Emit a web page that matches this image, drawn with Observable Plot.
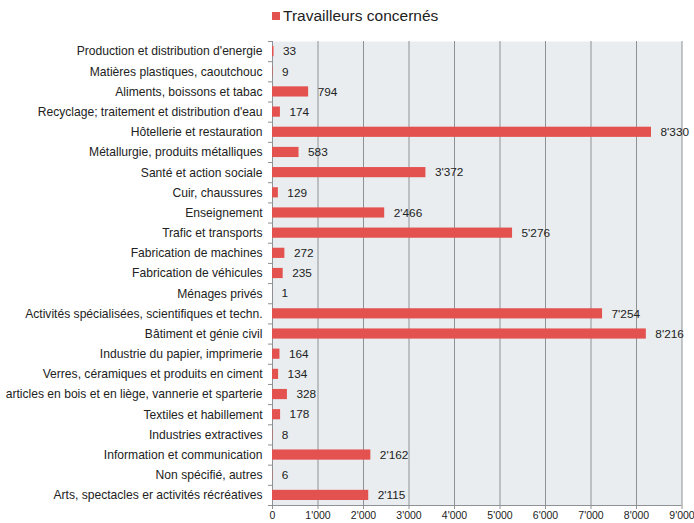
<!DOCTYPE html>
<html>
<head>
<meta charset="utf-8">
<script src="https://cdn.jsdelivr.net/npm/d3@7"></script>
<script src="https://cdn.jsdelivr.net/npm/@observablehq/plot@0.6"></script>
<style>
  body { margin: 0; background: #fff; font-family: "Liberation Sans", Arial, Helvetica, sans-serif; }
  #legend { position: relative; height: 30px; width: 694px; }
  #legend .sw { position: absolute; left: 272px; top: 12px; width: 8px; height: 8px; background: #e3524f; }
  #legend .lb { position: absolute; left: 283px; top: 6px; font-size: 15.5px; color: #222; line-height: 20px; }
  #chart svg { display: block; overflow: visible; }
</style>
</head>
<body>
<div id="legend"><span class="sw"></span><span class="lb">Travailleurs concernés</span></div>
<div id="chart"></div>
<script>
const categories = [
  "Production et distribution d'energie",
  "Matières plastiques, caoutchouc",
  "Aliments, boissons et tabac",
  "Recyclage; traitement et distribution d'eau",
  "Hôtellerie et restauration",
  "Métallurgie, produits métalliques",
  "Santé et action sociale",
  "Cuir, chaussures",
  "Enseignement",
  "Trafic et transports",
  "Fabrication de machines",
  "Fabrication de véhicules",
  "Ménages privés",
  "Activités spécialisées, scientifiques et techn.",
  "Bâtiment et génie civil",
  "Industrie du papier, imprimerie",
  "Verres, céramiques et produits en ciment",
  "articles en bois et en liège, vannerie et sparterie",
  "Textiles et habillement",
  "Industries extractives",
  "Information et communication",
  "Non spécifié, autres",
  "Arts, spectacles er activités récréatives"
];
const values = [33, 9, 794, 174, 8330, 583, 3372, 129, 2466, 5276, 272, 235, 1, 7254, 8216, 164, 134, 328, 178, 8, 2162, 6, 2115];
const xTicks = [0, 1000, 2000, 3000, 4000, 5000, 6000, 7000, 8000, 9000];
const seriesName = "Travailleurs concernés";

const data = categories.map((c, i) => ({category: c, value: values[i], i0: i, i1: i + 1, mid: i + 0.5}));
const fmt = d3.formatLocale({decimal: ".", thousands: "'", grouping: [3], currency: ["", ""]}).format(",");
const n = categories.length;

const chart = Plot.plot({
  width: 694,
  height: 493,
  marginLeft: 272,
  marginRight: 12.5,
  marginTop: 11,
  marginBottom: 18,
  style: {fontFamily: "'Liberation Sans', Arial, Helvetica, sans-serif", fontSize: "11.8px", color: "#222", overflow: "visible"},
  x: {domain: [0, 9000], ticks: xTicks},
  y: {domain: [0, n], reverse: true},
  marks: [
    Plot.frame({fill: "#e9edef", stroke: null}),
    Plot.ruleX(xTicks, {stroke: "#8e9294", strokeWidth: 1}),
    Plot.ruleY([n], {stroke: "#8e9294"}),
    Plot.ruleX([0], {stroke: "#8e9294"}),
    Plot.axisX({ticks: xTicks, tickFormat: fmt, tickSize: 4, tickPadding: 2, stroke: "#8e9294", color: "#222", fontSize: 10.5, label: null}),
    Plot.axisY({ticks: d3.range(n + 1), tickFormat: () => "", tickSize: 4, stroke: "#8e9294", label: null}),
    Plot.axisY({ticks: data.map(d => d.mid), tickFormat: d => categories[Math.floor(d)], tickSize: 0, tickPadding: 10, color: "#222", fontSize: 12.1, label: null}),
    Plot.rect(data, {x1: 0, x2: "value", y1: "i0", y2: "i1", insetTop: 5, insetBottom: 5, fill: "#e3524f"}),
    Plot.text(data, {x: "value", y: "mid", text: d => fmt(d.value), dx: 9, textAnchor: "start", fill: "#222"})
  ]
});
document.getElementById("chart").appendChild(chart);
</script>
</body>
</html>
